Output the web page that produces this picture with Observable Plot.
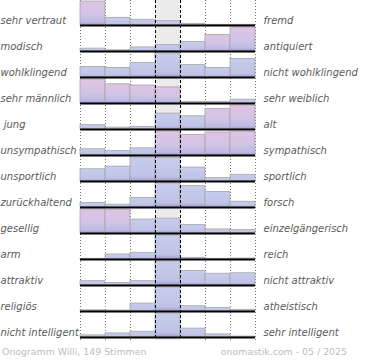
<!DOCTYPE html>
<html>
<head>
<meta charset="utf-8">
<script src="https://cdn.jsdelivr.net/npm/d3@7"></script>
<script src="https://cdn.jsdelivr.net/npm/@observablehq/plot@0.6"></script>
<style>
  html, body { margin: 0; padding: 0; background: #fff; }
  #footer { display: flex; justify-content: space-between; width: 347px; box-sizing: border-box;
    padding-left: 2px; height: 18px; line-height: 20px; font-family: "DejaVu Sans", sans-serif;
    font-size: 9.4px; color: #bdbdbd; }
</style>
</head>
<body>
<div id="chart"></div>
<div id="footer"><span>Onogramm Willi, 149 Stimmen</span><span>onomastik.com - 05 / 2025</span></div>
<script>
const leftLabels = ["sehr vertraut", "modisch", "wohlklingend", "sehr männlich", "\u00a0jung", "unsympathisch",
  "unsportlich", "zurückhaltend", "gesellig", "arm", "attraktiv", "religiös", "nicht intelligent"];
const rightLabels = ["fremd", "antiquiert", "nicht wohlklingend", "sehr weiblich", "alt", "sympathisch",
  "sportlich", "forsch", "einzelgängerisch", "reich", "nicht attraktiv", "atheistisch", "sehr intelligent"];

// relative bar heights per scale step (1..7)
const vertraut     = [100, 32, 24, 18, 7, 3, 3];
const modisch      = [12, 5, 17, 27, 40, 69, 100];
const wohlklingend = [44, 40, 61, 100, 52, 40, 77];
const maennlich    = [100, 80, 75, 67, 7, 7, 16];
const jung         = [18, 8, 11, 66, 55, 86, 100];
const sympathisch  = [26, 18, 30, 100, 86, 96, 98];
const sportlich    = [51, 62, 100, 98, 58, 14, 28];
const forsch       = [19, 12, 40, 100, 89, 65, 24];
const gesellig     = [100, 99, 58, 62, 35, 17, 14];
const reich        = [3, 21, 28, 100, 7, 3, 4];
const attraktiv    = [18, 10, 18, 100, 60, 49, 51];
const religioes    = [5, 4, 33, 100, 22, 14, 7];
const intelligent  = [9, 17, 24, 100, 37, 13, 4];

const rowsValues = [vertraut, modisch, wohlklingend, maennlich, jung, sympathisch, sportlich,
  forsch, gesellig, reich, attraktiv, religioes, intelligent];

const rows = leftLabels.map((l, i) => ({row: i, left: l, right: rightLabels[i]}));

const bars = [];
rowsValues.forEach((vals, r) => {
  const max = d3.max(vals);
  const total = d3.sum(vals);
  const mean = d3.sum(vals, (v, k) => v * (k + 1)) / total;
  const skewed = Math.abs(mean - 4) > 0.85;
  vals.forEach((v, k) => {
    const share = v / max;
    bars.push({row: r, step: k, share, pink: skewed && share >= 0.67});
  });
});

const H = 0.923; // fraction of a row used by a full bar
const outerSteps = [0, 1, 2, 5, 6, 7];
const centerSteps = [3, 4];

const plot = Plot.plot({
  width: 370,
  height: 342,
  marginLeft: 80,
  marginRight: 115,
  marginTop: 0,
  marginBottom: 2,
  x: {domain: [0, 7], axis: null},
  y: {domain: [0, 13], range: [-1, 337], axis: null},
  style: {fontFamily: "DejaVu Sans, sans-serif", fontSize: "10px", background: "white"},
  marks: [
    Plot.rect([3], {x1: d => d, x2: d => d + 1, fill: "#ececec"}),
    Plot.ruleX(outerSteps, {stroke: "#777", strokeWidth: 1, strokeDasharray: "1,2"}),
    Plot.rect(bars.filter(d => !d.pink), {
      x1: d => d.step, x2: d => d.step + 1,
      y1: d => d.row + 1, y2: d => d.row + 1 - d.share * H,
      fill: "url(#gradBlue)", stroke: "#a6a6a6", strokeWidth: 0.8
    }),
    Plot.rect(bars.filter(d => d.pink), {
      x1: d => d.step, x2: d => d.step + 1,
      y1: d => d.row + 1, y2: d => d.row + 1 - d.share * H,
      fill: "url(#gradPink)", stroke: "#a6a6a6", strokeWidth: 0.8
    }),
    Plot.ruleY(rows, {y: d => d.row + 1, x1: 0, x2: 7, stroke: "#000", strokeWidth: 2}),
    Plot.ruleX(centerSteps, {stroke: "#000", strokeWidth: 1, strokeDasharray: "3,2"}),
    Plot.text(rows, {y: d => d.row + 1, text: "left", frameAnchor: "left", dx: -80, dy: -5,
      textAnchor: "start", fill: "#5a5a5a", fontStyle: "italic"}),
    Plot.text(rows, {y: d => d.row + 1, text: "right", frameAnchor: "right", dx: 8, dy: -5,
      textAnchor: "start", fill: "#5a5a5a", fontStyle: "italic"})
  ]
});

const svg = d3.select(plot);
const defs = svg.insert("defs", ":first-child");
const gp = defs.append("linearGradient").attr("id", "gradPink").attr("x1", 0).attr("y1", 0).attr("x2", 0).attr("y2", 1);
gp.append("stop").attr("offset", "0%").attr("stop-color", "#e0c3e3");
gp.append("stop").attr("offset", "55%").attr("stop-color", "#d2c4e6");
gp.append("stop").attr("offset", "88%").attr("stop-color", "#bcbbe4");
gp.append("stop").attr("offset", "100%").attr("stop-color", "#a596cc");
const gb = defs.append("linearGradient").attr("id", "gradBlue").attr("x1", 0).attr("y1", 0).attr("x2", 0).attr("y2", 1);
gb.append("stop").attr("offset", "0%").attr("stop-color", "#c7cdec");
gb.append("stop").attr("offset", "80%").attr("stop-color", "#bfc3e7");
gb.append("stop").attr("offset", "100%").attr("stop-color", "#a79ccf");

document.getElementById("chart").appendChild(plot);
</script>
</body>
</html>
